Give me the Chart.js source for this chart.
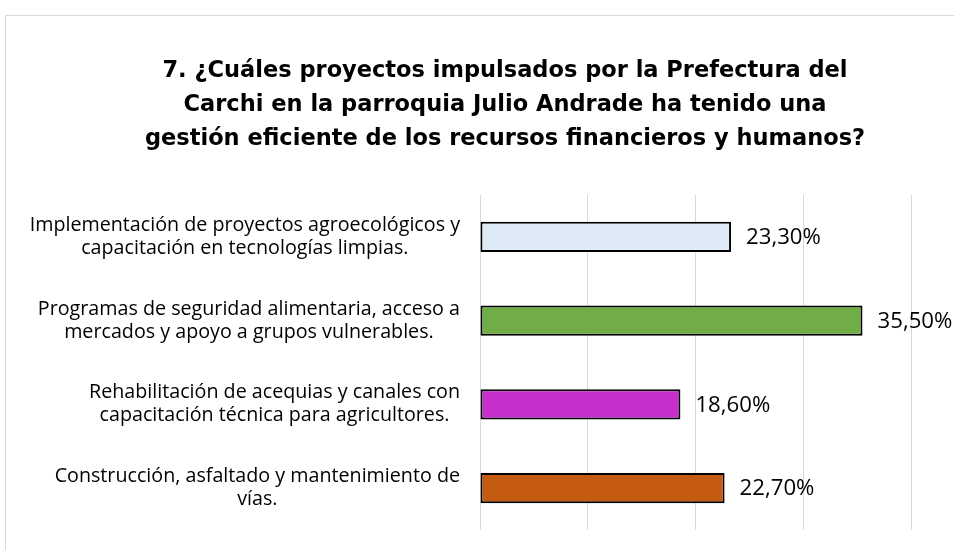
<!DOCTYPE html>
<html><head><meta charset="utf-8">
<script src="https://cdn.jsdelivr.net/npm/chart.js@4.4.1/dist/chart.umd.min.js"></script>
<style>
html,body{margin:0;padding:0;background:#fff;overflow:hidden}
#frame{position:absolute;left:5px;top:15px;width:1000px;height:600px;border:1px solid #d9d9d9;box-sizing:border-box}
#wrap{position:absolute;left:0;top:0;width:954px;height:550px}
</style></head><body>
<div id="frame"></div>
<div id="wrap"><canvas id="c" width="954" height="550"></canvas></div>
<script>
const titleLines = [
  '7. ¿Cuáles proyectos impulsados por la Prefectura del',
  'Carchi en la parroquia Julio Andrade ha tenido una',
  'gestión eficiente de los recursos financieros y humanos?'
];
const categories = [
  ['Implementación de proyectos agroecológicos y', 'capacitación en tecnologías limpias.'],
  ['Programas de seguridad alimentaria, acceso a', 'mercados y apoyo a grupos vulnerables.'],
  ['Rehabilitación de acequias y canales con', 'capacitación técnica para agricultores.'],
  ['Construcción, asfaltado y mantenimiento de', 'vías.']
];
const values = [23.3, 35.5, 18.6, 22.7];
const barColors = ['#DEEBF7', '#70AD47', '#C530CF', '#C55A11'];
const xMin = 0, xMax = 40, xStep = 10;

const fmt = v => v.toFixed(2).replace('.', ',') + '%';

const labelPlugin = {
  id: 'labels',
  afterDraw(chart) {
    const ctx = chart.ctx;
    const ys = chart.scales.y;
    ctx.save();
    ctx.fillStyle = '#000';
    ctx.textBaseline = 'middle';
    ctx.font = '19.7px "Open Sans"';
    const right = chart.chartArea.left - 20;
    categories.forEach((lines, i) => {
      const cy = ys.getPixelForTick(i);
      const maxW = Math.max(...lines.map(l => ctx.measureText(l).width));
      const cx = right - maxW / 2;
      ctx.textAlign = 'center';
      const lh = 23;
      lines.forEach((l, j) => ctx.fillText(l, cx, cy + (j - (lines.length - 1) / 2) * lh));
    });
    ctx.font = '22.2px "Open Sans"';
    ctx.textAlign = 'left';
    const meta = chart.getDatasetMeta(0);
    meta.data.forEach((bar, i) => {
      ctx.fillText(fmt(values[i]), bar.x + 15, bar.y + 1);
    });
    ctx.restore();
  }
};

new Chart(document.getElementById('c'), {
  type: 'bar',
  data: {
    labels: categories,
    datasets: [{
      data: values,
      backgroundColor: barColors,
      borderColor: '#000',
      borderWidth: 2,
      borderSkipped: false,
      categoryPercentage: 1,
      barPercentage: 0.36
    }]
  },
  options: {
    responsive: false,
    animation: false,
    indexAxis: 'y',
    layout: { padding: { left: 99, right: 43, top: 54, bottom: 20 } },
    plugins: {
      legend: { display: false },
      tooltip: { enabled: false },
      title: {
        display: true,
        text: titleLines,
        color: '#000',
        font: { family: '"DejaVu Sans"', size: 22.5, weight: 'bold', lineHeight: 34 / 22.5 },
        padding: { top: 0, bottom: 39 }
      }
    },
    scales: {
      x: {
        min: xMin, max: xMax,
        ticks: { display: false, stepSize: xStep },
        grid: { color: '#d9d9d9', lineWidth: 1, drawTicks: false },
        border: { display: false }
      },
      y: {
        ticks: { display: false },
        grid: { display: false },
        border: { display: false },
        afterFit(s) { s.width = 381; }
      }
    }
  },
  plugins: [labelPlugin]
});
</script>
</body></html>
